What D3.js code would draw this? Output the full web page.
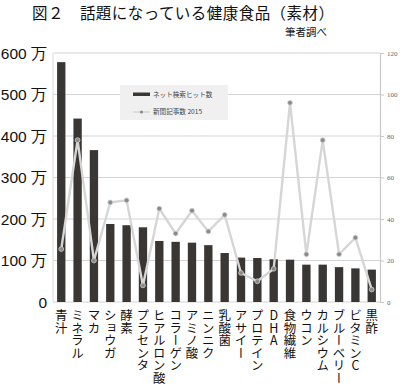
<!DOCTYPE html>
<html>
<head>
<meta charset="utf-8">
<script src="https://cdn.jsdelivr.net/npm/d3@7"></script>
<style>
  html, body { margin: 0; padding: 0; background: #fff; }
  svg { display: block; }
</style>
</head>
<body>
<svg id="chart" width="400" height="389"></svg>
<script>
// data
const categories = ['青汁', 'ミネラル', 'マカ', 'ショウガ', '酵素', 'プラセンタ', 'ヒアルロン酸', 'コラーゲン', 'アミノ酸',
  'ニンニク', '乳酸菌', 'アサイー', 'プロテイン', 'DHA', '食物繊維', 'ウコン', 'カルシウム', 'ブルーベリー', 'ビタミンC', '黒酢'];
const hits = [578, 442, 366, 188, 185, 180, 147, 145, 143, 137, 118, 107, 106, 103, 102, 90, 90, 84, 81, 78]; // 万
const articles = [25.5, 78, 20, 48, 49, 8, 45, 33, 44, 34, 42, 14, 10, 16, 96, 23, 78, 23, 31, 6];
const leftTicks = [0, 100, 200, 300, 400, 500, 600];
const rightTicks = [0, 20, 40, 60, 80, 100, 120];
const legendLabels = ['ネット検索ヒット数', '新聞記事数 2015'];

const svg = d3.select('#chart');
const jp = '"Noto Sans CJK JP", sans-serif';
const m = { left: 53, right: 380, top: 53, bottom: 302 };

const x = d3.scaleBand().domain(categories).range([m.left, m.right]).paddingInner(0.49).paddingOuter(0.25);
const yL = d3.scaleLinear().domain([0, 600]).range([m.bottom, m.top]);
const yR = d3.scaleLinear().domain([0, 120]).range([m.bottom, m.top]);

// title
svg.append('text').attr('x', 32).attr('y', 18.5)
  .attr('font-family', jp).attr('font-size', 15.5).attr('fill', '#111')
  .attr('textLength', 302).attr('lengthAdjust', 'spacing')
  .text('図２　話題になっている健康食品（素材）');
svg.append('text').attr('x', 285).attr('y', 35.5)
  .attr('font-family', jp).attr('font-size', 10.5).attr('fill', '#111')
  .text('筆者調べ');

// grid + frame
svg.append('g').selectAll('line').data(leftTicks).enter().append('line')
  .attr('x1', m.left).attr('x2', m.right)
  .attr('y1', d => yL(d)).attr('y2', d => yL(d))
  .attr('stroke', '#d4d4d4').attr('stroke-width', 1.2);
svg.append('line').attr('x1', m.left).attr('x2', m.left).attr('y1', m.top).attr('y2', m.bottom)
  .attr('stroke', '#dcdcdc');

// left axis labels
svg.append('g').selectAll('text').data(leftTicks).enter().append('text')
  .attr('x', 47).attr('y', d => yL(d)).attr('dy', '0.36em')
  .attr('text-anchor', 'end').attr('font-size', 15.5).attr('fill', '#111')
  .attr('font-family', '"Liberation Sans", Arial, sans-serif')
  .text(d => d === 0 ? '0' : d + ' 万');

// right axis
const rAxis = d3.axisRight(yR).tickValues(rightTicks).tickSize(4).tickPadding(3);
const rg = svg.append('g').attr('transform', `translate(${m.right},0)`).call(rAxis);
rg.select('.domain').attr('stroke', '#c8c8c8').attr('stroke-width', 1.2);
rg.selectAll('.tick line').attr('stroke', '#c8c8c8');
rg.selectAll('.tick text').attr('font-size', 7).attr('fill', '#666')
  .attr('font-family', '"Liberation Serif", serif');

// bars
svg.append('g').selectAll('rect').data(categories).enter().append('rect')
  .attr('x', d => x(d)).attr('width', x.bandwidth())
  .attr('y', (d, i) => yL(hits[i])).attr('height', (d, i) => yL(0) - yL(hits[i]))
  .attr('fill', '#3a3634');

// line
const line = d3.line().x((d, i) => x(categories[i]) + x.bandwidth() / 2).y(d => yR(d));
svg.append('path').datum(articles).attr('d', line)
  .attr('fill', 'none').attr('stroke', '#d6d6d6').attr('stroke-width', 2.4).attr('stroke-linejoin', 'miter');
svg.append('g').selectAll('circle').data(articles).enter().append('circle')
  .attr('cx', (d, i) => x(categories[i]) + x.bandwidth() / 2).attr('cy', d => yR(d))
  .attr('r', 2.4).attr('fill', '#8a8a8a').attr('stroke', '#cfcfcf').attr('stroke-width', 0.8);

// legend
const lg = svg.append('g');
lg.append('rect').attr('x', 120).attr('y', 85).attr('width', 108).attr('height', 35).attr('fill', '#f0f0f0');
lg.append('rect').attr('x', 133).attr('y', 92.5).attr('width', 17).attr('height', 3.5).attr('fill', '#3a3634');
lg.append('line').attr('x1', 133).attr('x2', 150).attr('y1', 112).attr('y2', 112)
  .attr('stroke', '#d6d6d6').attr('stroke-width', 1.5);
lg.append('circle').attr('cx', 141.5).attr('cy', 112).attr('r', 1.6).attr('fill', '#8a8a8a');
lg.selectAll('text.lab').data(legendLabels).enter().append('text')
  .attr('x', 153).attr('y', (d, i) => i === 0 ? 94.5 : 112).attr('dy', '0.35em')
  .attr('font-family', jp).attr('font-size', 6.6).attr('fill', '#444')
  .text(d => d);

// vertical category labels
svg.append('g').selectAll('text').data(categories).enter().append('text')
  .attr('x', d => x(d) + x.bandwidth() / 2).attr('y', 309)
  .attr('font-family', jp).attr('font-size', 12.5).attr('fill', '#111')
  .style('writing-mode', 'vertical-rl').style('text-orientation', 'upright')
  .text(d => d);
</script>
</body>
</html>
